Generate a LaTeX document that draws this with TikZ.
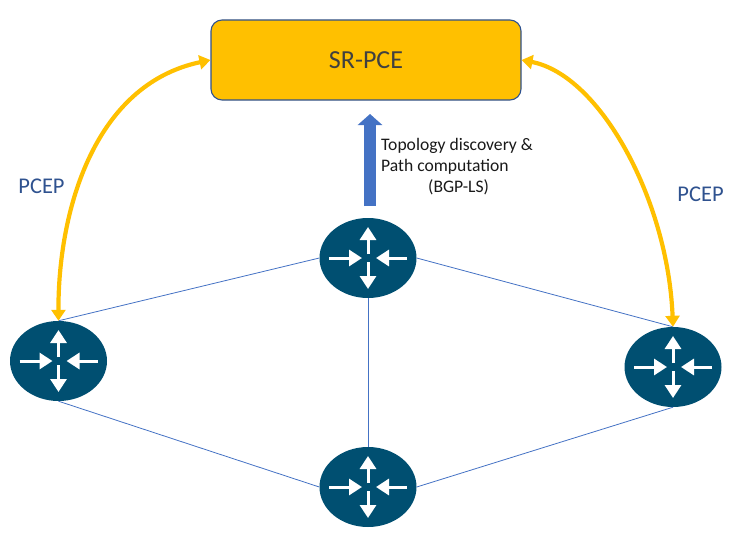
\documentclass[tikz,border=0pt]{standalone}
\usepackage{fontspec}
\setmainfont{Carlito}
\usetikzlibrary{shapes.geometric,arrows.meta}
\definecolor{routerblue}{HTML}{004F71}
\definecolor{pceyellow}{HTML}{FFC000}
\definecolor{edgeblue}{HTML}{4472C4}
\definecolor{darkedge}{HTML}{2F528F}
\tikzset{
  router/.style={ellipse,fill=routerblue,draw=none,minimum width=97pt,minimum height=80pt,inner sep=0pt},
  whitearrow/.style={white,line width=3pt,-{Triangle[length=13pt,width=16pt]}},
  link/.style={edgeblue,line width=0.8pt},
  pcep/.style={pceyellow,line width=4.2pt,{Triangle[length=11pt,width=14pt]}-{Triangle[length=11pt,width=14pt]}},
  pceplabel/.style={text=darkedge,font=\fontsize{22.5}{26}\selectfont,inner sep=0pt},
}
\newcommand{\routerarrows}[1]{%
  \begin{scope}[shift={(#1)}]
    \draw[whitearrow] (0,-4) -- (0,-31);
    \draw[whitearrow] (0,4) -- (0,31);
    \draw[whitearrow] (-39,0) -- (-6,0);
    \draw[whitearrow] (39,0) -- (8,0);
  \end{scope}}
\begin{document}
\begin{tikzpicture}[x=1pt,y=-1pt]
\useasboundingbox (0,0) rectangle (733,535);
\node[router] (top) at (368,258) {};
\node[router] (left) at (58.5,361) {};
\node[router] (right) at (673,367) {};
\node[router] (bottom) at (368,487) {};
\node[draw=darkedge,line width=1.1pt,fill=pceyellow,rounded corners=11pt,minimum width=310pt,minimum height=80pt,inner sep=0pt,text=black!75,font=\fontsize{26}{30}\selectfont] (pce) at (366,60) {\raisebox{-1pt}{SR-PCE}};
\draw[link] (top.west) -- (left.north);
\draw[link] (top.east) -- (right.north);
\draw[link] (left.south) -- (bottom.west);
\draw[link] (right.south) -- (bottom.east);
\draw[link] (top.south) -- (bottom.north);
\routerarrows{top}
\routerarrows{left}
\routerarrows{right}
\routerarrows{bottom}
\draw[pcep] (pce.west) .. controls (92,85) and (58,215) .. (left.north);
\draw[pcep] (pce.east) .. controls (600,75) and (668,200) .. (right.north);
\coordinate (arrowbase) at (370,206);
\coordinate (arrowtip) at (370,114);
\draw[-{Triangle[length=11pt,width=24pt]},edgeblue,line width=12pt] (arrowbase) -- (arrowtip);
\node[pceplabel,anchor=center] (pl) at (41.5,186) {PCEP};
\node[pceplabel,anchor=center] (pr) at (700.5,194) {PCEP};
\node[anchor=north west,align=left,inner sep=0pt,text=black!90,font=\fontsize{17.6}{21}\selectfont] (topo) at (381,138) {Topology discovery \&\\Path computation\\\hspace*{47pt}(BGP-LS)};
\end{tikzpicture}
\end{document}
